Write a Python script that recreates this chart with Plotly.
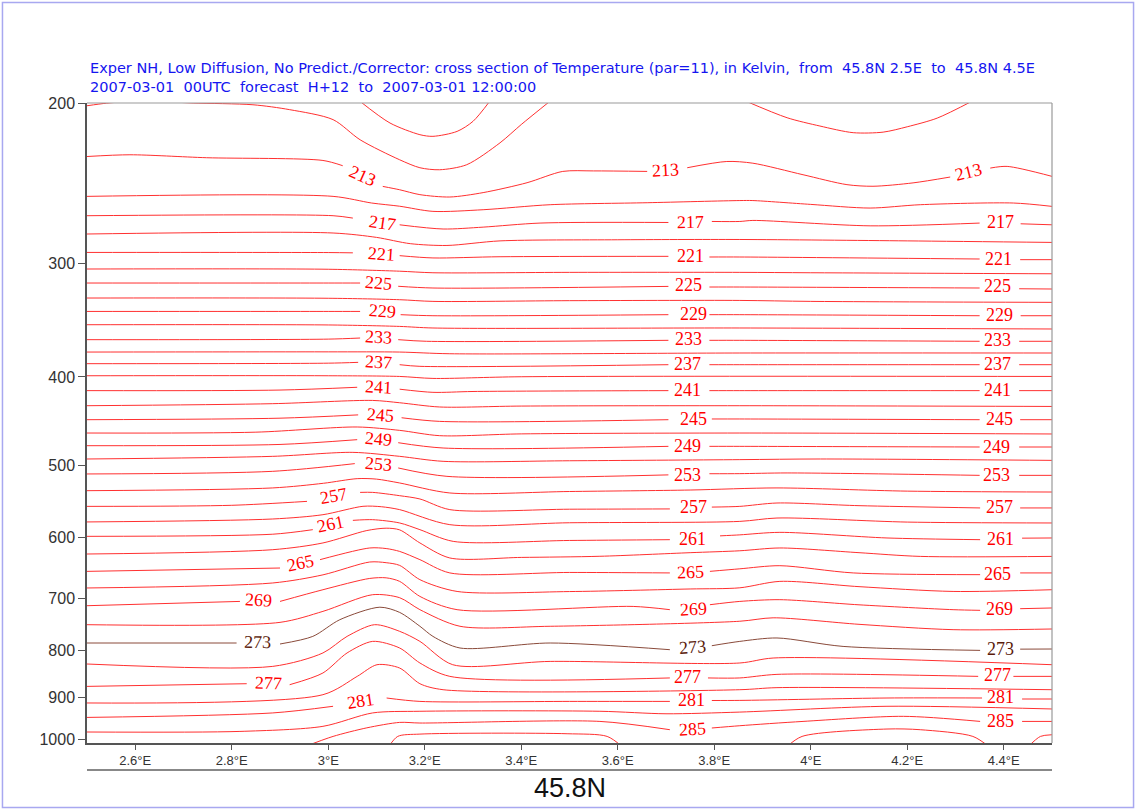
import math
import plotly.graph_objects as go

# ---------------- data: isotherms (longitude in deg E, pressure in hPa) -------------
lon_209 = [3.065, 3.128, 3.19, 3.217, 3.267, 3.30, 3.335]
p_209 = [199.0, 210.4, 216.7, 217.6, 214.9, 209.5, 199.0]

lon_211a = [2.5, 2.54, 2.58, 2.66, 2.72, 2.844, 2.92, 3.01, 3.066, 3.148, 3.19, 3.231, 3.287, 3.356, 3.40, 3.46]
p_211a = [201.4, 200.1, 199.4, 199.4, 200.0, 200.9, 203.4, 208.6, 219.5, 230.9, 235.6, 236.8, 233.8, 221.2, 211.2, 199.0]

lon_211b = [3.865, 3.951, 4.019, 4.088, 4.15, 4.2, 4.262, 4.335]
p_211b = [199.0, 207.6, 212.0, 215.6, 215.3, 212.4, 207.8, 199.0]

lon_213 = [2.5, 2.589, 2.748, 2.989, 3.03, None, 3.113, 3.148, 3.19, 3.252, 3.321, 3.412, 3.486, 3.55, 3.661, None,
           3.744, 3.826, 3.88, 3.984, 4.075, 4.129, 4.212, 4.289, None, 4.372, 4.407, 4.5]
p_213 = [229.0, 228.0, 229.7, 231.3, 234.4, None, 247.0, 249.1, 252.2, 253.7, 250.9, 244.7, 237.8, 237.5, 237.8, None,
         235.6, 231.9, 232.9, 239.8, 245.9, 246.9, 244.8, 241.2, None, 235.8, 234.8, 240.8]

lon_215 = [2.5, 3.01, 3.09, 3.148, 3.217, 3.321, 3.46, 3.661, 3.853, 3.88, 4.0, 4.123, 4.227, 4.42, 4.5]
p_215 = [253.3, 253.3, 257.6, 259.7, 263.1, 262.0, 258.7, 257.4, 256.0, 256.0, 258.5, 260.9, 258.7, 257.6, 259.8]

lon_217 = [2.5, 3.01, 3.051, None, 3.148, 3.238, 3.321, 3.439, 3.705, None, 3.795, 3.853, 3.88, 4.123, 4.35, None, 4.435, 4.5]
p_217 = [266.0, 266.0, 267.6, None, 272.2, 275.1, 273.8, 271.0, 270.6, None, 269.9, 269.9, 269.2, 272.9, 271.0, None, 271.5, 272.2]

lon_219 = [2.5, 3.01, 3.10, 3.17, 3.246, 3.356, 3.6, 3.853, 4.2, 4.5]
p_219 = [278.6, 277.9, 281.0, 285.5, 286.8, 283.5, 282.7, 282.5, 283.5, 284.6]

lon_221 = [2.5, 3.0, 3.051, None, 3.148, 3.217, 3.356, 3.705, None, 3.79, 3.853, 4.35, None, 4.434, 4.5]
p_221 = [291.9, 292.0, 292.2, None, 294.3, 296.0, 295.1, 294.8, None, 295.3, 295.3, 296.8, None, 297.3, 297.3]

lon_223 = [2.5, 3.0, 3.148, 3.217, 3.5, 3.853, 4.0, 4.5]
p_223 = [304.4, 304.6, 306.1, 307.3, 307.0, 307.0, 307.3, 308.1]

lon_225 = [2.5, 3.0, 3.066, None, 3.145, 3.217, 3.705, None, 3.79, 3.853, 4.35, None, 4.432, 4.5]
p_225 = [315.4, 315.4, 315.4, None, 318.0, 319.4, 318.1, None, 318.6, 318.6, 319.4, None, 320.0, 320.2]

lon_227 = [2.5, 3.0, 3.148, 3.217, 3.5, 3.853, 4.0, 4.5]
p_227 = [327.6, 327.8, 329.0, 330.4, 329.8, 329.6, 330.4, 331.2]

lon_229 = [2.5, 3.0, 3.066, None, 3.15, 3.217, 3.705, None, 3.79, 3.853, 4.35, None, 4.435, 4.5]
p_229 = [338.9, 338.9, 338.9, None, 341.7, 342.6, 341.7, None, 341.7, 341.7, 342.6, None, 342.6, 342.6]

lon_231 = [2.5, 3.0, 3.148, 3.217, 3.853, 4.5]
p_231 = [350.5, 350.7, 352.0, 353.4, 353.4, 354.3]

lon_233 = [2.5, 3.0, 3.066, None, 3.145, 3.204, 3.705, None, 3.79, 3.853, 4.35, None, 4.432, 4.5]
p_233 = [364.0, 363.5, 362.5, None, 364.0, 365.5, 364.6, None, 364.6, 364.6, 365.5, None, 365.5, 365.5]

lon_235 = [2.5, 3.0, 3.148, 3.252, 3.853, 4.5]
p_235 = [375.6, 375.4, 375.6, 377.2, 376.5, 376.5]

lon_237 = [2.5, 3.0, 3.062, None, 3.148, 3.19, 3.705, None, 3.79, 3.853, 4.35, None, 4.432, 4.5]
p_237 = [386.8, 386.3, 385.5, None, 387.8, 389.4, 387.8, None, 387.8, 387.8, 387.8, None, 387.8, 387.8]

lon_239 = [2.5, 3.0, 3.148, 3.217, 3.4, 4.5]
p_239 = [398.8, 398.8, 399.5, 401.5, 399.8, 399.5]

lon_241 = [2.5, 2.9, 3.06, None, 3.148, 3.217, 3.3, 3.705, None, 3.79, 3.853, 4.35, None, 4.432, 4.5]
p_241 = [414.1, 413.5, 410.6, None, 412.6, 415.9, 415.0, 414.1, None, 414.1, 414.1, 414.1, None, 414.1, 414.1]

lon_243 = [2.5, 2.885, 3.092, 3.148, 3.231, 3.4, 3.853, 4.5]
p_243 = [430.2, 428.0, 424.5, 427.0, 431.6, 430.6, 430.2, 431.0]

lon_245 = [2.5, 2.9, 3.062, None, 3.152, 3.231, 3.705, None, 3.795, 3.853, 4.35, None, 4.434, 4.5]
p_245 = [445.7, 444.0, 440.3, None, 443.5, 447.6, 445.7, None, 444.9, 444.9, 445.7, None, 445.7, 445.7]

lon_247 = [2.5, 2.85, 3.06, 3.148, 3.231, 3.4, 3.853, 4.5]
p_247 = [461.0, 460.0, 454.0, 457.9, 464.1, 462.0, 461.0, 462.1]

lon_249 = [2.5, 2.9, 3.06, None, 3.145, 3.238, 3.705, None, 3.79, 3.853, 4.35, None, 4.432, 4.5]
p_249 = [476.0, 474.5, 468.8, None, 472.4, 478.8, 476.8, None, 476.8, 476.8, 477.6, None, 477.6, 477.6]

lon_251 = [2.5, 2.885, 3.051, 3.148, 3.238, 3.5, 3.853, 4.02, 4.5]
p_251 = [492.3, 489.0, 484.1, 489.0, 495.2, 494.5, 493.1, 492.3, 494.0]

lon_253 = [2.5, 2.885, 3.055, None, 3.145, 3.246, 3.705, None, 3.79, 3.853, 3.951, 4.35, None, 4.432, 4.5]
p_253 = [511.3, 507.9, 498.1, None, 503.6, 514.4, 512.5, None, 511.0, 510.9, 510.0, 513.1, None, 513.1, 513.1]

lon_255 = [2.5, 2.885, 2.99, 3.06, 3.10, 3.148, 3.252, 3.5, 3.75, 3.93, 4.2, 4.5]
p_255 = [533.4, 529.7, 523.5, 517.4, 518.0, 523.1, 536.5, 534.5, 532.5, 529.7, 534.0, 535.2]

lon_257 = [2.5, 2.8, 2.956, None, 3.066, 3.092, 3.148, 3.19, 3.252, 3.5, 3.708, None, 3.795, 3.853, 3.93, 4.1, 4.351, None, 4.434, 4.5]
p_257 = [555.0, 553.5, 548.0, None, 535.7, 535.7, 540.2, 544.7, 559.6, 559.0, 558.6, None, 556.0, 555.0, 550.3, 554.0, 557.2, None, 557.2, 557.2]

lon_259 = [2.5, 2.885, 2.989, 3.072, 3.11, 3.148, 3.252, 3.5, 3.853, 3.93, 4.2, 4.5]
p_259 = [577.3, 573.0, 566.8, 554.9, 555.5, 559.6, 581.3, 578.5, 576.5, 571.6, 577.5, 578.8]

lon_261 = [2.5, 2.885, 2.968, None, 3.051, 3.092, 3.148, 3.19, 3.259, 3.5, 3.708, None, 3.812, 3.853, 3.936, 4.158, 4.351, None, 4.438, 4.5]
p_261 = [598.7, 595.5, 588.7, None, 575.0, 574.0, 578.8, 588.7, 606.4, 605.0, 603.8, None, 598.0, 596.5, 592.7, 601.2, 603.8, None, 601.5, 601.2]

lon_263 = [2.5, 2.885, 2.989, 3.08, 3.12, 3.148, 3.19, 3.252, 3.4, 3.563, 3.75, 3.853, 3.936, 4.1, 4.227, 4.5]
p_263 = [626.1, 619.3, 608.8, 590.0, 586.5, 589.0, 608.8, 632.4, 631.5, 629.7, 624.0, 621.0, 616.6, 624.0, 629.9, 629.9]

lon_265 = [2.5, 2.9, None, 2.983, 3.086, 3.12, 3.148, 3.19, 3.252, 3.5, 3.708, None, 3.791, 3.853, 3.936, 4.088, 4.351, None, 4.434, 4.5]
p_265 = [654.2, 648.7, None, 635.1, 616.6, 617.5, 622.0, 635.1, 656.8, 656.0, 656.8, None, 654.2, 650.0, 644.9, 656.8, 659.7, None, 656.8, 656.8]

lon_267 = [2.5, 2.885, 2.989, 3.086, 3.12, 3.148, 3.19, 3.267, 3.5, 3.75, 3.853, 3.936, 4.1, 4.295, 4.5]
p_267 = [682.3, 673.7, 660.0, 638.9, 640.0, 644.4, 668.1, 688.3, 688.5, 684.0, 682.0, 671.0, 680.0, 688.3, 685.3]

lon_269 = [2.5, 2.817, None, 2.9, 2.989, 3.086, 3.12, 3.148, 3.19, 3.267, 3.632, 3.708, None, 3.791, 3.853, 3.936, 4.1, 4.295, 4.351, None, 4.434, 4.5]
p_269 = [713.6, 705.9, None, 705.9, 685.3, 666.0, 665.0, 671.0, 697.0, 720.8, 714.9, 720.8, None, 711.8, 705.9, 702.8, 712.0, 720.8, 722.0, None, 719.0, 717.7]

lon_271 = [2.5, 2.9, 2.989, 3.092, 3.148, 3.19, 3.273, 3.46, 3.853, 3.922, 4.1, 4.295, 4.5]
p_271 = [748.7, 744.3, 723.9, 694.0, 699.3, 720.8, 751.7, 751.7, 742.2, 735.8, 748.0, 758.2, 756.9]

lon_273 = [2.5, 2.81, None, 2.9, 2.968, 3.024, 3.107, 3.148, 3.19, 3.217, 3.273, 3.46, 3.708, None, 3.795, 3.853, 3.93, 4.067, 4.351, None, 4.434, 4.5]
p_273 = [784.2, 784.2, None, 786.2, 771.2, 739.3, 716.3, 725.8, 751.7, 771.2, 794.2, 784.2, 797.6, None, 789.6, 781.0, 774.3, 791.0, 799.0, None, 796.5, 796.2]

lon_275 = [2.5, 2.885, 2.989, 3.039, 3.096, 3.148, 3.19, 3.258, 3.46, 3.853, 3.922, 4.5]
p_275 = [827.0, 832.0, 804.2, 771.2, 748.7, 761.4, 781.0, 828.5, 821.6, 824.9, 814.6, 828.5]

lon_277 = [2.5, 2.831, None, 2.92, 2.989, 3.039, 3.092, 3.148, 3.19, 3.252, 3.708, None, 3.787, 3.853, 3.93, 4.347, None, 4.42, 4.5]
p_277 = [875.2, 869.3, None, 871.5, 846.0, 804.2, 781.0, 794.2, 824.9, 853.3, 856.7, None, 856.7, 856.7, 849.0, 853.3, None, 853.3, 853.3]

lon_279 = [2.5, 2.989, 3.06, 3.101, 3.148, 3.19, 3.238, 3.853, 3.93, 4.5]
p_279 = [912.7, 893.8, 853.3, 828.5, 835.5, 869.3, 882.6, 882.6, 878.0, 882.6]

lon_281 = [2.5, 2.885, 3.01, None, 3.121, 3.19, 3.5, 3.708, None, 3.795, 3.853, 4.158, 4.355, None, 4.438, 4.5]
p_281 = [946.7, 936.0, 920.4, None, 901.3, 909.1, 909.1, 909.1, None, 907.0, 906.8, 901.3, 901.3, None, 903.6, 903.6]

lon_283 = [2.5, 2.817, 2.989, 3.092, 3.19, 3.563, 3.70, 3.853, 4.158, 4.5]
p_283 = [982.3, 980.8, 968.3, 936.0, 932.1, 932.1, 938.0, 934.0, 920.4, 926.7]

lon_285 = [2.95, 3.01, 3.08, 3.148, 3.19, 3.563, 3.708, None, 3.795, 3.853, 3.984, 4.192, 4.351, None, 4.438, 4.5]
p_285 = [1020.0, 993.3, 972.0, 958.7, 960.2, 956.3, 976.6, None, 972.4, 966.8, 956.3, 944.1, 956.3, None, 956.3, 956.3]

lon_287 = [3.125, 3.144, 3.19, 3.495, 3.578, 3.61, None, 3.95, 3.982, 4.158, 4.227, 4.336, 4.37, None, 4.45, 4.476, 4.5]
p_287 = [1020.0, 993.3, 987.5, 986.6, 993.3, 1020.0, None, 1020.0, 993.3, 974.9, 976.6, 993.3, 1020.0, None, 1020.0, 993.3, 989.1]

isotherms = [
    (209, lon_209, p_209), (211, lon_211a, p_211a), (211, lon_211b, p_211b),
    (213, lon_213, p_213), (215, lon_215, p_215), (217, lon_217, p_217),
    (219, lon_219, p_219), (221, lon_221, p_221), (223, lon_223, p_223),
    (225, lon_225, p_225), (227, lon_227, p_227), (229, lon_229, p_229),
    (231, lon_231, p_231), (233, lon_233, p_233), (235, lon_235, p_235),
    (237, lon_237, p_237), (239, lon_239, p_239), (241, lon_241, p_241),
    (243, lon_243, p_243), (245, lon_245, p_245), (247, lon_247, p_247),
    (249, lon_249, p_249), (251, lon_251, p_251), (253, lon_253, p_253),
    (255, lon_255, p_255), (257, lon_257, p_257), (259, lon_259, p_259),
    (261, lon_261, p_261), (263, lon_263, p_263), (265, lon_265, p_265),
    (267, lon_267, p_267), (269, lon_269, p_269), (271, lon_271, p_271),
    (273, lon_273, p_273), (275, lon_275, p_275), (277, lon_277, p_277),
    (279, lon_279, p_279), (281, lon_281, p_281), (283, lon_283, p_283),
    (285, lon_285, p_285), (287, lon_287, p_287),
]

# ---------------- contour labels ----------------
lab_left_T = [213, 217, 221, 225, 229, 233, 237, 241, 245, 249, 253, 257, 261, 265, 269, 273, 277, 281]
lab_left_lon = [3.072, 3.112, 3.111, 3.105, 3.112, 3.105, 3.104, 3.105, 3.108, 3.105, 3.104, 3.01, 3.005, 2.943, 2.856, 2.853, 2.877, 3.066]
lab_left_p = [241.2, 271.3, 293.6, 316.2, 339.5, 362.5, 386.1, 411.4, 441.6, 469.6, 499.4, 541.8, 581.3, 642.5, 705.9, 784.2, 869.3, 910.0]

lab_mid_T = [213, 217, 221, 225, 229, 233, 237, 241, 245, 249, 253, 257, 261, 265, 269, 273, 277, 281, 285]
lab_mid_lon = [3.699, 3.75, 3.75, 3.746, 3.757, 3.746, 3.745, 3.745, 3.757, 3.745, 3.745, 3.757, 3.755, 3.75, 3.757, 3.755, 3.745, 3.753, 3.755]
lab_mid_p = [237.5, 270.8, 295.3, 318.1, 341.7, 364.6, 387.8, 414.1, 445.7, 477.6, 513.5, 557.3, 603.8, 656.8, 720.8, 794.2, 856.7, 909.1, 976.6]

lab_right_T = [213, 217, 221, 225, 229, 233, 237, 241, 245, 249, 253, 257, 261, 265, 269, 273, 277, 281, 285]
lab_right_lon = [4.327, 4.394, 4.389, 4.387, 4.391, 4.387, 4.387, 4.387, 4.391, 4.386, 4.386, 4.391, 4.393, 4.387, 4.391, 4.393, 4.387, 4.393, 4.394]
lab_right_p = [239.0, 271.0, 297.3, 318.6, 342.6, 365.5, 387.8, 414.1, 445.7, 478.8, 514.4, 557.2, 603.8, 660.8, 722.1, 797.6, 853.3, 901.3, 958.7]

# axis ticks
x_tick_vals = [2.6, 2.8, 3.0, 3.2, 3.4, 3.6, 3.8, 4.0, 4.2, 4.4]
x_tick_text = ["2.6°E", "2.8°E", "3°E", "3.2°E", "3.4°E", "3.6°E", "3.8°E", "4°E", "4.2°E", "4.4°E"]
p_tick_vals = [200, 300, 400, 500, 600, 700, 800, 900, 1000]

title_line1 = ("Exper NH, Low Diffusion, No Predict./Corrector: cross section of Temperature (par=11), "
               "in Kelvin,  from  45.8N 2.5E  to  45.8N 4.5E")
title_line2 = "2007-03-01  00UTC  forecast  H+12  to  2007-03-01 12:00:00"
x_title = "45.8N"

# ---------------- styles ----------------
RED = "#ff3030"
BROWN_LINE = "#8a4a3a"
BROWN_TEXT = "#5a1a0a"
left_angles = [24, 8, 4, 5, 4, 3, 3, 3, 4, 5, 5, -10, -12, -12, 3, 1, 2, -9]
mid_angles = [-3, -1, 0, 0, 0, 0, 0, 0, 0, 0, 0, 0, 0, -2, -3, -4, 0, 0, -3]
right_angles = [-14, 0, 0, 0, 0, 0, 0, 0, 0, 0, 0, 0, 0, 0, 0, 0, 0, 0, 0]

fig = go.Figure()
for T, lons, ps in isotherms:
    col = BROWN_LINE if T == 273 else RED
    fig.add_trace(go.Scatter(
        x=lons, y=ps, mode="lines", connectgaps=False,
        line=dict(color=col, width=1.0, shape="spline", smoothing=0.8),
        hoverinfo="skip", showlegend=False))

def add_labels(Ts, lons, ps, angles):
    for T, lo, pp, ang in zip(Ts, lons, ps, angles):
        fig.add_annotation(
            x=lo, y=math.log10(pp), xref="x", yref="y", text=str(T), showarrow=False,
            textangle=ang, xanchor="center", yanchor="middle", yshift=1,
            font=dict(family="Liberation Serif", size=18,
                      color=BROWN_TEXT if T == 273 else "#ff0000"))

add_labels(lab_left_T, lab_left_lon, lab_left_p, left_angles)
add_labels(lab_mid_T, lab_mid_lon, lab_mid_p, mid_angles)
add_labels(lab_right_T, lab_right_lon, lab_right_p, right_angles)

# titles
fig.add_annotation(xref="paper", yref="paper", x=0.001, y=1.0547, xanchor="left", yanchor="middle",
                   text=title_line1, showarrow=False,
                   font=dict(family="DejaVu Sans", size=14.5, color="#1515f0"))
fig.add_annotation(xref="paper", yref="paper", x=0.001, y=1.025, xanchor="left", yanchor="middle",
                   text=title_line2, showarrow=False,
                   font=dict(family="DejaVu Sans", size=14.5, color="#1515f0"))
fig.add_annotation(xref="paper", yref="paper", x=0.5, y=-0.0703, xanchor="center", yanchor="middle",
                   text=x_title, showarrow=False,
                   font=dict(family="Liberation Sans", size=27, color="#111111"))

# frame pieces
fig.add_shape(type="line", xref="paper", yref="paper", x0=0, x1=1, y0=1, y1=1,
              line=dict(color="#999999", width=1.2))
fig.add_shape(type="line", xref="paper", yref="paper", x0=1, x1=1, y0=0, y1=1,
              line=dict(color="#999999", width=1.2))
fig.add_shape(type="line", xref="paper", yref="paper", x0=0, x1=1, y0=-0.0422, y1=-0.0422,
              line=dict(color="#888888", width=2))
fig.add_shape(type="rect", xref="paper", yref="paper", x0=-0.0876, x1=1.0845, y0=-0.1008, y1=1.157,
              line=dict(color="#a8a8f0", width=1.5))

fig.update_xaxes(range=[2.5, 4.5], tickvals=x_tick_vals, ticktext=x_tick_text,
                 ticks="outside", ticklen=5, tickcolor="#555555", tickwidth=1,
                 showline=True, linecolor="#555555", linewidth=1.5,
                 showgrid=False, zeroline=False,
                 tickfont=dict(family="Liberation Sans", size=13, color="#333333"))
fig.update_yaxes(type="log", range=[math.log10(1010), math.log10(200)],
                 tickvals=p_tick_vals, ticktext=[str(v) for v in p_tick_vals],
                 ticks="outside", ticklen=7, tickcolor="#555555", tickwidth=1,
                 showline=True, linecolor="#555555", linewidth=1.5,
                 showgrid=False, zeroline=False,
                 tickfont=dict(family="Liberation Sans", size=16, color="#333333"))

fig.update_layout(width=1136, height=810, autosize=False,
                  margin=dict(l=87, r=84, t=103, b=67),
                  plot_bgcolor="white", paper_bgcolor="white", showlegend=False)

fig.write_html("out.html", config={"displayModeBar": False},
               post_script="document.body.style.margin='0';")
